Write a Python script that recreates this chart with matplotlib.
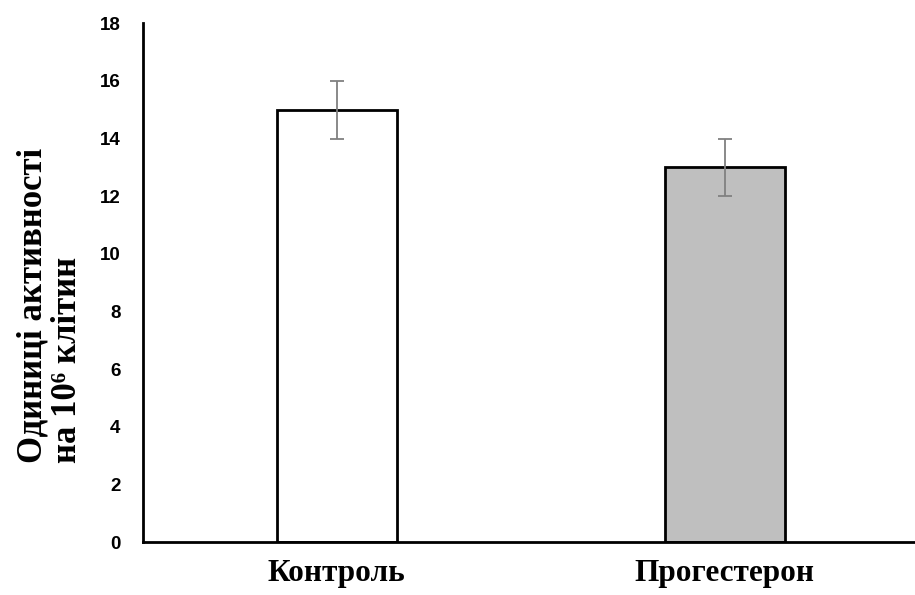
import numpy as np
import matplotlib.pyplot as plt

groups = ['Контроль', 'Прогестерон']
activity = [15, 13]
errors = [1, 1]
bar_colors = ['white', '#bfbfbf']
yticks = [0, 2, 4, 6, 8, 10, 12, 14, 16, 18]

serif = ['Liberation Serif', 'DejaVu Serif']
sans = ['Liberation Sans', 'DejaVu Sans']

fig = plt.figure(figsize=(9.15, 5.95), dpi=100)
ax = fig.add_axes([0.156, 0.089, 0.844, 0.872])

x = np.arange(len(groups))
ax.bar(x, activity, width=0.31, color=bar_colors, edgecolor='black', linewidth=2, zorder=2)
ax.errorbar(x, activity, yerr=errors, fmt='none', ecolor='#808080',
            elinewidth=1.3, capsize=5, capthick=1.3, zorder=3)

ax.set_xlim(-0.5, 1.49)
ax.set_ylim(0, 18)
ax.set_yticks(yticks)
ax.set_yticklabels([str(t) for t in yticks], family=sans, fontweight='bold', fontsize=13.5)
ax.set_xticks(x)
ax.set_xticklabels(groups, family=serif, fontweight='bold', fontsize=22.5)
ax.tick_params(axis='y', length=0, pad=16)
ax.tick_params(axis='x', length=0, pad=12)

for side in ['top', 'right']:
    ax.spines[side].set_visible(False)
for side in ['left', 'bottom']:
    ax.spines[side].set_linewidth(2)

fig.text(0.055, 0.222, 'Одиниці активності\nна 10⁶ клітин', rotation=90,
         ha='center', va='bottom', multialignment='left',
         family=serif, fontweight='bold', fontsize=25, linespacing=1.05)

fig.savefig('out.png', dpi=100)
